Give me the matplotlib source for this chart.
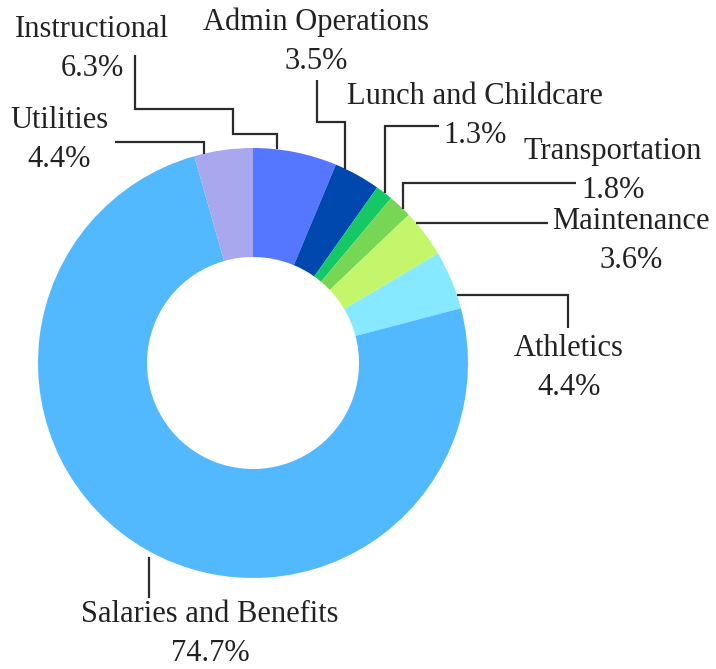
import numpy as np
import matplotlib
matplotlib.use('Agg')
import matplotlib.pyplot as plt

categories = ['Instructional', 'Admin Operations', 'Lunch and Childcare', 'Transportation',
              'Maintenance', 'Athletics', 'Salaries and Benefits', 'Utilities']
shares = [6.3, 3.5, 1.3, 1.8, 3.6, 4.4, 74.7, 4.4]
colors = ['#5576FF', '#0047AE', '#15C865', '#78D655', '#C3F66B', '#86E9FF', '#53B9FF', '#A9A7EE']

# layout in pixel space (y grows downward)
W, H = 716, 669
CX, CY, R = 253, 363, 215
HOLE = 106

label_pos = {
    'Instructional': (92, 49),
    'Admin Operations': (316, 42),
    'Lunch and Childcare': (475, 116),
    'Transportation': (613, 171),
    'Maintenance': (631, 241),
    'Athletics': (569, 368),
    'Salaries and Benefits': (210, 634),
    'Utilities': (59, 140),
}

# leader lines: label-side points, last point is snapped to the ring ('v' = vertical, 'h' = horizontal)
leaders = {
    'Instructional': ([(135, 55), (135, 109), (233, 109), (233, 134), (277, 134)], 'v'),
    'Admin Operations': ([(317, 80), (317, 122), (345, 122)], 'v'),
    'Lunch and Childcare': ([(439, 126), (385, 126)], 'v'),
    'Transportation': ([(576, 183), (403, 183)], 'v'),
    'Maintenance': ([(548, 223)], 'h'),
    'Athletics': ([(568, 328), (568, 295)], 'h'),
    'Utilities': ([(115, 142), (204, 142)], 'v'),
}
salaries_leader = [(149, 597), (149, 558)]


def ring_point(pt, mode):
    x, y = pt
    if mode == 'v':
        return (x, CY - np.sqrt(R**2 - (x - CX)**2))
    return (CX + np.sqrt(R**2 - (y - CY)**2), y)


def draw_leader(ax, pts, mode):
    pts = list(pts) + [ring_point(pts[-1], mode)]
    xs, ys = zip(*pts)
    ax.plot(xs, ys, color='#2b2b2b', lw=1.6, solid_joinstyle='miter', solid_capstyle='butt')


fig = plt.figure(figsize=(W / 100, H / 100), dpi=100)
ax = fig.add_axes([0, 0, 1, 1])

# y axis is inverted, so counterclock in data space reads clockwise on screen
ax.pie(shares, colors=colors, startangle=-90, counterclock=True,
       center=(CX, CY), radius=R,
       wedgeprops=dict(width=R - HOLE, linewidth=0))

for name, (pts, mode) in leaders.items():
    draw_leader(ax, pts, mode)
xs, ys = zip(*salaries_leader)
ax.plot(xs, ys, color='#2b2b2b', lw=1.6)

for name, val in zip(categories, shares):
    x, y = label_pos[name]
    ax.text(x, y, f'{name}\n{val:.1f}%', ha='center', va='center',
            fontsize=22, family='Liberation Serif', color='#222222', linespacing=1.45)

ax.set_xlim(0, W)
ax.set_ylim(H, 0)
ax.set_aspect('equal')
ax.axis('off')

fig.savefig('out.png', dpi=100)
